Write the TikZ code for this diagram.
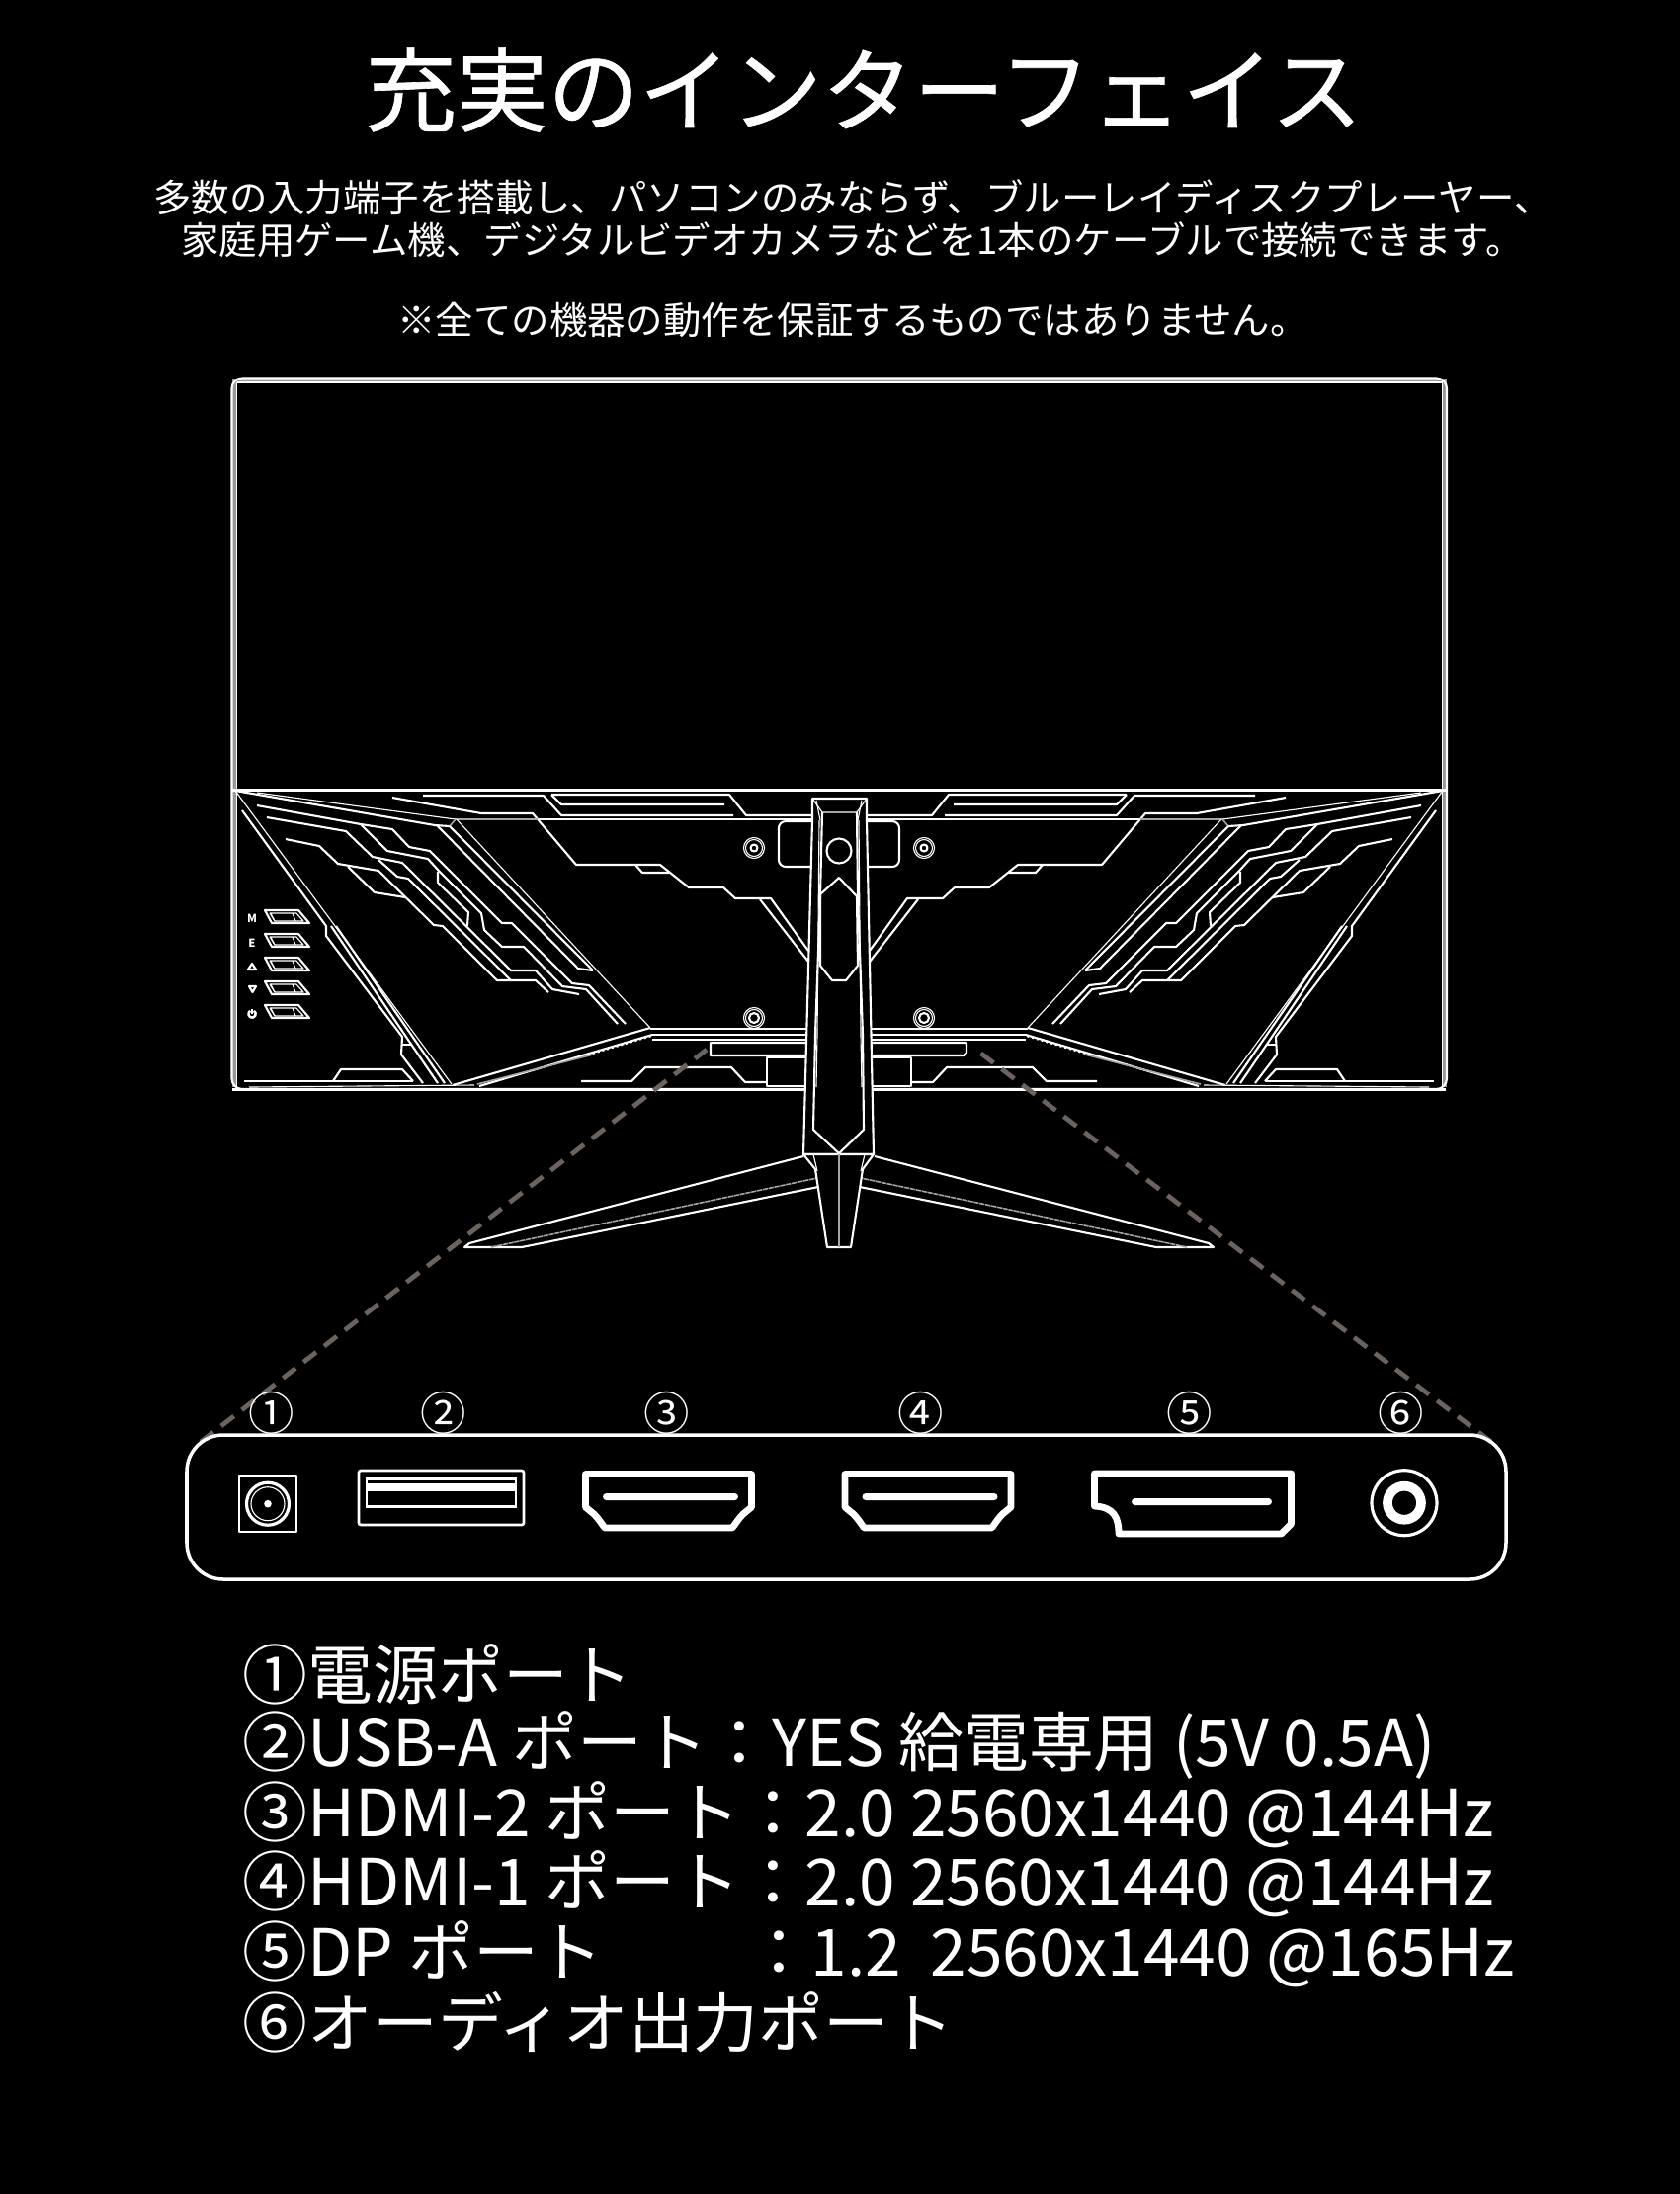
\documentclass[tikz,border=0pt]{standalone}
\usepackage{fontspec}
\setmainfont{Noto Sans CJK JP}
\newfontfamily\titlefont[FakeBold=0.7]{Noto Sans CJK JP}
\definecolor{dashgray}{HTML}{6B6360}
\tikzset{
	panelline/.style={draw=white, line width=0.6pt, line join=round},
	thinline/.style={draw=white, line width=0.32pt, line join=round},
	grayline/.style={draw=black!35!white, line width=0.45pt},
	portline/.style={draw=white, line width=1.95pt, line join=round},
	zoomdash/.style={draw=dashgray, line width=1.35pt, dash pattern=on 4.6pt off 2.9pt},
	introline/.style={text=white, inner sep=0pt, font=\fontsize{10.93}{12}\selectfont},
	listline/.style={text=white, anchor=west, inner sep=0pt, font=\fontsize{18.72}{20}\selectfont},
	portnum/.style={text=white, inner sep=0pt, font=\fontsize{13.2}{14}\selectfont},
	keylabel/.style={text=white, inner sep=0pt, font=\fontsize{3.2}{4}\selectfont\bfseries},
}
\def\hdmiport(#1){
	\begin{scope}[xshift=#1*0.01cm]
		\draw[portline] (592.5, 1491.5) -- (760.5, 1491.5) -- (760.5, 1525) -- (752, 1532) .. controls (747, 1537) and (745, 1541) .. (741, 1546) -- (612, 1546) .. controls (608, 1541) and (606, 1537) .. (601, 1532) -- (592.5, 1525) -- cycle;
		\fill[white, rounded corners=1pt] (610, 1511) rectangle (747, 1518);
	\end{scope}
}
\begin{document}
\begin{tikzpicture}[x=0.01cm, y=-0.01cm]
	%%%%% BACKGROUND %%%%%
	\fill[black] (0, 0) rectangle (1700, 2220);
	\useasboundingbox (0, 0) rectangle (1700, 2220);

	%%%%% TEXT %%%%%
	\node[text=white, inner sep=0pt, font=\fontsize{26.3}{28}\selectfont\titlefont] (title) at (874, 91) {充実のインターフェイス};
	\node[introline] (introa) at (863, 200) {多数の入力端子を搭載し、パソコンのみならず、ブルーレイディスクプレーヤー、};
	\node[introline] (introb) at (862.5, 243) {家庭用ゲーム機、デジタルビデオカメラなどを1本のケーブルで接続できます。};
	\node[introline] (note) at (863, 324) {※全ての機器の動作を保証するものではありません。};

	%%%%% MONITOR %%%%%
	\draw[draw=black!40!white, line width=1.2pt] (237, 1100) -- (237, 385) -- (1462, 385) -- (1462, 1100);
	\draw[panelline, rounded corners=3pt] (234.5, 382.5) rectangle (1464, 1102);
	\draw[thinline] (239.5, 387) -- (1459.5, 387) (239.5, 387) -- (239.5, 1099) (1459.5, 387) -- (1459.5, 1099);
	\draw[panelline, line width=0.85pt] (235, 799) -- (1463, 799);

	% both halves of the back panel
	\foreach \s/\o in {1/0, -1/1698}{
		\begin{scope}[xshift=\o*0.01cm, xscale=\s]
			% top edge stripes
			\draw[panelline] (397, 807) -- (487, 823) -- (539, 823) -- (583, 875) -- (668, 875) -- (697, 898) -- (732, 898) -- (744, 909) -- (780, 909) -- (818, 962);
			\draw[panelline] (769, 910) -- (818, 973);
			\draw[panelline] (643, 875) -- (650, 883) -- (677, 883);
			\draw[panelline] (428, 805) -- (550, 805) -- (568, 825) -- (742, 825);
			\draw[panelline] (558, 804) -- (568, 814) -- (733, 814);
			\draw[panelline] (558, 804) -- (738, 804) -- (755, 825) -- (822, 825);
			\draw[panelline] (544, 829) -- (822, 829);
			\draw[grayline] (460, 829) -- (544, 829);

			% corner wedge and long diagonals
			\draw[panelline] (238, 800) -- (440, 835) -- (455, 836);
			\draw[thinline] (260, 802) -- (461, 829);
			\draw[grayline] (461, 829) -- (455, 836);
			\draw[thinline] (238, 800) -- (457, 1097);
			\draw[panelline] (245, 820) -- (330, 937) -- (330, 947) -- (407, 1049) -- (406, 1067) -- (428, 1096);
			\draw[panelline] (335, 937) -- (415, 1055) -- (443, 1096);
			\draw[panelline] (340, 937) -- (450, 1096);
			\draw[panelline] (407, 1057) -- (416, 1057);

			% circuit lines
			\draw[panelline] (260, 815) -- (365, 834) -- (397, 839) -- (414, 857) -- (435, 861) -- (508, 934) -- (518, 934) -- (579, 995) -- (596, 997) -- (633, 1036);
			\draw[panelline] (270, 827) -- (350, 841) -- (377, 867) -- (407, 873) -- (517, 982) -- (542, 982) -- (559, 1001) -- (586, 1006);
			\draw[panelline] (365, 834) -- (392, 861) -- (433, 869) -- (443, 880) -- (487, 924) -- (490, 941) -- (508, 958) -- (530, 958) -- (569, 998) -- (593, 1001) -- (625, 1036);
			\draw[panelline] (443, 882) -- (443, 893) -- (474, 923) -- (473, 937);
			\draw[panelline] (383, 870) -- (402, 887) -- (413, 889) -- (517, 992);
			\draw[panelline] (289, 849) -- (323, 856) -- (342, 874) -- (383, 881) -- (439, 936) -- (448, 937) -- (503, 992) -- (542, 992) -- (555, 1004);
			\draw[panelline] (352, 877) -- (379, 903) -- (410, 908);
			\draw[panelline] (442, 835) -- (585, 980) -- (600, 982);
			\draw[panelline] (455, 836) -- (600, 982);
			\draw[thinline] (462, 829) -- (658, 1040);

			% bottom edge
			\draw[panelline] (658, 1040) -- (458, 1098);
			\draw[panelline] (660, 1047) -- (485, 1099);
			\draw[grayline] (600, 1067) -- (483, 1097);
			\draw[white, line width=0.5pt, dash pattern=on 0.6pt off 0.8pt] (600, 1066) -- (660, 1048);
			\draw[panelline] (658, 1041) -- (820, 1041);
			\draw[thinline] (660, 1047) -- (820, 1047);
			\draw[panelline] (660, 1052) -- (820, 1052);
			\draw[thinline] (252, 1100) -- (480, 1098);
			\draw[panelline] (247, 1094) -- (418, 1094);
			\draw[panelline] (337, 1094) -- (345, 1082) -- (407, 1082) -- (418, 1094);
			\draw[panelline] (588, 1094) -- (639, 1094) -- (653, 1080) -- (740, 1080) -- (754, 1095) -- (776, 1095);
			\draw[panelline, line width=0.85pt] (235, 1102) -- (820, 1102);

			% screws
			\foreach \yy/\rr in {858/3.5, 1030/5}{
				\draw[thinline] (763, \yy) circle (10.5);
				\draw[thinline] (763, \yy) circle (8.5);
				\draw[panelline] (763, \yy) circle (\rr);
			}
		\end{scope}
	}

	%%%%% CENTRE BLOCKS %%%%%
	\draw[panelline] (719, 1055) -- (978, 1055) -- (978, 1065) -- (975, 1068) -- (719, 1068) -- cycle;
	\draw[panelline] (776, 1070) rectangle (922, 1099);
	\draw[panelline, rounded corners=2pt] (788, 831) rectangle (910, 877);

	%%%%% BUTTONS %%%%%
	\foreach \yy in {921, 945, 969, 993, 1017}{
		\draw[panelline] (268, \yy) -- (302, \yy) -- (313, \yy+13) -- (275, \yy+13) -- cycle;
		\draw[thinline] (273, \yy+3) -- (300, \yy+3) -- (307, \yy+11) -- (278, \yy+11) -- cycle;
		\draw[thinline] (278, \yy+11) -- (274, \yy+3) (296, \yy+3) -- (299, \yy+11);
	}
	\node[keylabel] (keym) at (255, 929) {M};
	\node[keylabel] (keye) at (255, 954) {E};
	\draw[panelline] (251, 981) -- (255, 975) -- (259, 981) -- cycle;
	\draw[panelline] (252, 998) -- (259, 998) -- (255.5, 1004) -- cycle;
	\draw[panelline, line width=0.7pt] (256.9, 1022.8) arc (-60:240:3.7);
	\draw[panelline, line width=0.7pt] (255, 1021) -- (255, 1026);

	%%%%% STAND %%%%%
	\draw[panelline, fill=black] (822, 808) -- (877, 808) -- (877, 830) -- (884, 1168) -- (813, 1168) -- (822, 830) -- cycle;
	\draw[thinline] (822, 808) -- (832, 822) -- (867, 822) -- (877, 808);
	\draw[thinline] (826, 810) -- (830, 830) (872, 810) -- (868, 830);
	\draw[panelline] (832, 822) -- (830, 907) -- (825, 1047) -- (823, 1143) -- (849, 1167) -- (874, 1143) -- (873, 1047) -- (868, 907) -- (867, 822);
	\draw[thinline] (829, 830) -- (827, 1047) -- (826, 1100);
	\draw[thinline] (869, 830) -- (871, 1047) -- (872, 1100);
	\draw[panelline] (849, 888) -- (867, 907) -- (868, 977) -- (856, 992) -- (842, 992) -- (830, 977) -- (830, 905) -- cycle;
	\draw[panelline] (849, 861) circle (12.5);
	\draw[grayline] (823, 1168) -- (875, 1168);

	% feet and the neck
	\foreach \s/\o in {1/0, -1/1698}{
		\begin{scope}[xshift=\o*0.01cm, xscale=\s]
			\draw[panelline] (813, 1170) -- (475, 1258) -- (470, 1262) -- (528, 1262) -- (828, 1201);
			\draw[grayline, dash pattern=on 1.5pt off 0.2pt] (497, 1262) -- (827, 1192);
		\end{scope}
	}
	\draw[panelline, fill=black] (813, 1168) -- (825, 1183) -- (837, 1262) -- (861, 1262) -- (873, 1183) -- (884, 1168) -- cycle;
	\draw[thinline] (823, 1168) -- (827, 1185) (875, 1168) -- (871, 1185);
	\draw[grayline] (849, 1168) -- (849, 1262);

	%%%%% ZOOM LINES %%%%%
	\coordinate (zoomla) at (715, 1062);
	\coordinate (zoomlb) at (203, 1459);
	\coordinate (zoomra) at (985, 1060);
	\coordinate (zoomrb) at (1509, 1459);
	\draw[zoomdash] (zoomlb) -- (zoomla);
	\draw[zoomdash] (zoomrb) -- (zoomra);

	%%%%% PORT PANEL %%%%%
	\draw[draw=white, line width=1pt, rounded corners=10.5pt] (189, 1452) rectangle (1524, 1598);

	\node[portnum] (numa) at (275, 1430) {①};
	\node[portnum] (numb) at (448.5, 1430) {②};
	\node[portnum] (numc) at (674.5, 1430) {③};
	\node[portnum] (numd) at (931.5, 1430) {④};
	\node[portnum] (nume) at (1203.5, 1430) {⑤};
	\node[portnum] (numf) at (1417.5, 1430) {⑥};

	% power
	\draw[panelline] (242.3, 1492.7) rectangle (300.4, 1550);
	\draw[draw=white, line width=0.9pt] (271, 1521.7) circle (21.5);
	\draw[thinline] (271, 1521.7) circle (17);
	\fill[white] (271, 1521.7) circle (3.8);

	% usb
	\draw[draw=white, line width=0.75pt, rounded corners=0.6pt] (363, 1488) rectangle (530, 1543);
	\draw[draw=white, line width=0.85pt] (371, 1496) rectangle (522, 1524);
	\fill[white] (371, 1501) rectangle (522, 1509);

	% hdmi
	\hdmiport(0)
	\hdmiport(262.5)

	% displayport
	\draw[portline] (1107.5, 1491) -- (1306.5, 1491) -- (1306.5, 1542) -- (1296.5, 1552) -- (1132, 1552) .. controls (1132, 1535) and (1127, 1525) .. (1107.5, 1524) -- cycle;
	\fill[white, rounded corners=1pt] (1145, 1516) rectangle (1287, 1523);

	% audio
	\draw[draw=white, line width=0.9pt] (1421, 1520.7) circle (33);
	\draw[draw=white, line width=2.75pt] (1421, 1520.7) circle (17);

	%%%%% PORT LIST %%%%%
	\node[listline] (lista) at (245, 1694) {①電源ポート};
	\node[listline] (listb) at (245, 1766) {②USB-A ポート：YES 給電専用 (5V 0.5A)};
	\node[listline] (listc) at (245, 1836) {③HDMI-2 ポート：2.0 2560x1440 @144Hz};
	\node[listline] (listd) at (245, 1906.5) {④HDMI-1 ポート：2.0 2560x1440 @144Hz};
	\node[listline] (liste) at (245, 1977) {⑤DP ポート　　\hspace{3.6pt}：1.2\ \ 2560x1440 @165Hz};
	\node[listline] (listf) at (245, 2046.5) {⑥オーディオ出力ポート};
\end{tikzpicture}
\end{document}
